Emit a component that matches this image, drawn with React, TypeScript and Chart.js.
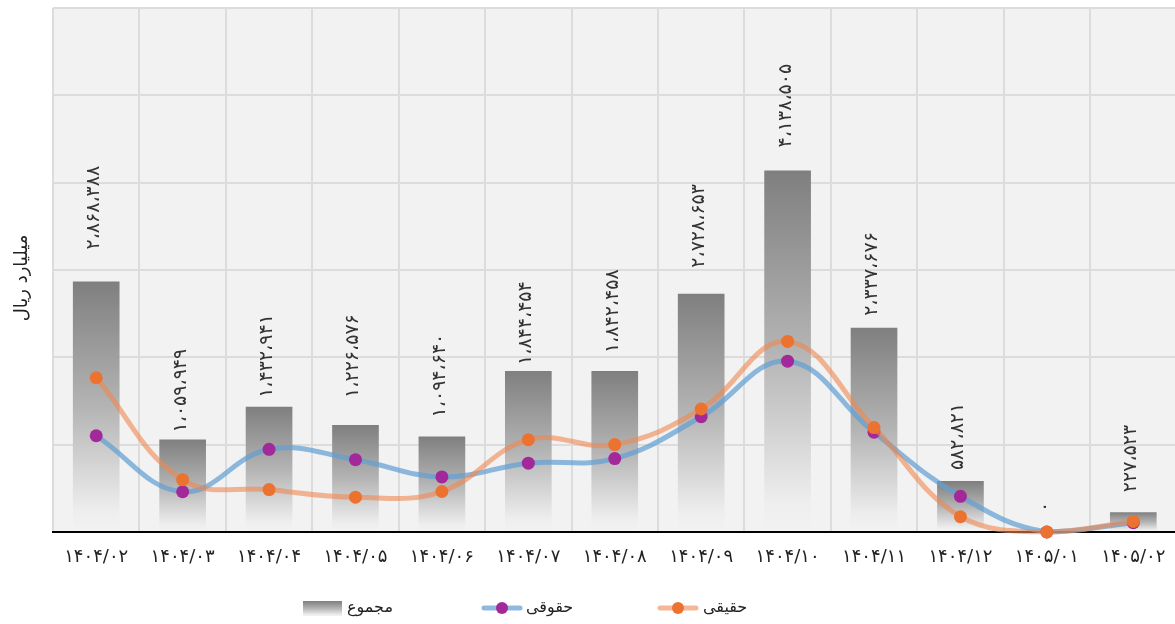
import { useEffect, useRef } from "react";
import { Chart, registerables } from "chart.js";

Chart.register(...registerables);

// Months (Persian calendar)
const months = [
  "۱۴۰۴/۰۲", "۱۴۰۴/۰۳", "۱۴۰۴/۰۴", "۱۴۰۴/۰۵", "۱۴۰۴/۰۶", "۱۴۰۴/۰۷", "۱۴۰۴/۰۸",
  "۱۴۰۴/۰۹", "۱۴۰۴/۱۰", "۱۴۰۴/۱۱", "۱۴۰۴/۱۲", "۱۴۰۵/۰۱", "۱۴۰۵/۰۲",
];

// مجموع (billion rials)
const totals = [
  2868388, 1059949, 1432941, 1226576, 1094640, 1844454, 1842458,
  2728653, 4138505, 2337676, 582821, 0, 227523,
];

// حقوقی
const legalValues = [
  1102000, 461000, 947000, 828000, 631000, 788000, 841000,
  1320000, 1956000, 1142000, 408000, 0, 106000,
];

// حقیقی
const naturalValues = [
  1766388, 598949, 485941, 398576, 463640, 1056454, 1001458,
  1408653, 2182505, 1195676, 174821, 0, 121523,
];

// y axis range and grid step
const yMax = 6000000;
const yStep = 1000000;

// distance (px) between each bar top and the start of its value label
const labelGap = [32, 7, 9, 27, 19, 6, 18, 26, 23, 12, 11, 20, 20];

const FONT = "'DejaVu Sans', 'Noto Sans', sans-serif";
const FA_DIGITS = "۰۱۲۳۴۵۶۷۸۹";

function toFa(n: number): string {
  return n
    .toLocaleString("en-US")
    .replace(/,/g, "،")
    .replace(/\d/g, (d) => FA_DIGITS[+d]);
}

const BLUE_LINE = "rgba(100, 160, 210, 0.72)";
const ORANGE_LINE = "rgba(238, 135, 80, 0.6)";
const PURPLE_POINT = "#a3289a";
const ORANGE_POINT = "#ec7230";
const TEXT = "#222222";

function barGradient(c: CanvasRenderingContext2D, top: number, bottom: number) {
  const g = c.createLinearGradient(0, top, 0, bottom);
  g.addColorStop(0, "#7f7f7f");
  g.addColorStop(0.5, "#b4b4b4");
  g.addColorStop(0.92, "#eeeeee");
  g.addColorStop(1, "#f2f2f2");
  return g;
}

const plotBackground = {
  id: "plotBackground",
  beforeDraw(chart: any) {
    const { ctx, chartArea } = chart;
    if (!chartArea) return;
    ctx.save();
    ctx.fillStyle = "#f2f2f2";
    ctx.fillRect(chartArea.left, chartArea.top, chartArea.right - chartArea.left, chartArea.bottom - chartArea.top);
    ctx.restore();
  },
};

const barLabels = {
  id: "barLabels",
  afterDatasetsDraw(chart: any) {
    const meta = chart.getDatasetMeta(0);
    const c: CanvasRenderingContext2D = chart.ctx;
    meta.data.forEach((el: any, i: number) => {
      const { x, y } = el.getProps(["x", "y"], true);
      c.save();
      c.translate(x - 2, y - labelGap[i]);
      c.rotate(-Math.PI / 2);
      c.textAlign = "left";
      c.textBaseline = "middle";
      c.fillStyle = "#333333";
      c.font = `19px ${FONT}`;
      c.fillText(toFa(totals[i]), 0, 0);
      c.restore();
    });
  },
};

const sideAndLegend = {
  id: "sideAndLegend",
  afterDraw(chart: any) {
    const c: CanvasRenderingContext2D = chart.ctx;
    c.save();
    c.fillStyle = TEXT;

    // axis title
    c.save();
    c.font = `18px ${FONT}`;
    c.translate(22, 278);
    c.rotate(-Math.PI / 2);
    c.textAlign = "center";
    c.textBaseline = "middle";
    c.fillText("میلیارد ریال", 0, 0);
    c.restore();

    const ly = 608;
    c.font = `16px ${FONT}`;
    c.textBaseline = "middle";
    c.textAlign = "left";

    // مجموع
    c.fillStyle = barGradient(c, 601, 616);
    c.fillRect(303, 601, 39, 15);
    c.fillStyle = TEXT;
    c.fillText("مجموع", 347, ly);

    // حقوقی
    c.strokeStyle = BLUE_LINE;
    c.lineWidth = 5;
    c.lineCap = "round";
    c.beginPath();
    c.moveTo(484, ly);
    c.lineTo(520, ly);
    c.stroke();
    c.fillStyle = PURPLE_POINT;
    c.beginPath();
    c.arc(502, ly, 6, 0, Math.PI * 2);
    c.fill();
    c.fillStyle = TEXT;
    c.fillText("حقوقی", 526, ly);

    // حقیقی
    c.strokeStyle = ORANGE_LINE;
    c.beginPath();
    c.moveTo(660, ly);
    c.lineTo(696, ly);
    c.stroke();
    c.fillStyle = ORANGE_POINT;
    c.beginPath();
    c.arc(678, ly, 6, 0, Math.PI * 2);
    c.fill();
    c.fillStyle = TEXT;
    c.fillText("حقیقی", 703, ly);

    c.restore();
  },
};

export default function App() {
  const canvasRef = useRef<HTMLCanvasElement | null>(null);

  useEffect(() => {
    document.body.style.margin = "0";
    document.body.style.overflow = "hidden";
    const canvas = canvasRef.current;
    if (!canvas) return;

    const chart = new Chart(canvas, {
      type: "bar",
      data: {
        labels: months,
        datasets: [
          {
            type: "bar",
            label: "مجموع",
            data: totals,
            order: 3,
            barPercentage: 0.9,
            categoryPercentage: 0.6,
            backgroundColor: (ctx: any) => {
              const chart = ctx.chart;
              if (!chart.chartArea || ctx.type !== "data") return "#808080";
              const ys = chart.scales.y;
              const top = ys.getPixelForValue(totals[ctx.dataIndex]);
              const bottom = ys.getPixelForValue(0);
              if (bottom - top < 1) return "#808080";
              return barGradient(chart.ctx, top, bottom);
            },
          },
          {
            type: "line",
            label: "حقوقی",
            data: legalValues,
            order: 2,
            borderColor: BLUE_LINE,
            borderWidth: 5,
            tension: 0.4,
            pointRadius: 6.5,
            pointBorderWidth: 0,
            pointBackgroundColor: PURPLE_POINT,
            clip: false as any,
          },
          {
            type: "line",
            label: "حقیقی",
            data: naturalValues,
            order: 1,
            borderColor: ORANGE_LINE,
            borderWidth: 5,
            tension: 0.4,
            pointRadius: 6.5,
            pointBorderWidth: 0,
            pointBackgroundColor: ORANGE_POINT,
            clip: false as any,
          },
        ],
      },
      options: {
        animation: false,
        responsive: false,
        maintainAspectRatio: false,
        layout: { padding: { top: 8, right: 3, left: 0, bottom: 0 } },
        plugins: {
          legend: { display: false },
          tooltip: { enabled: false },
        },
        scales: {
          x: {
            grid: { color: "#dcdcdc", lineWidth: 2, drawTicks: false, offset: true },
            border: { color: "#000000", width: 2 },
            ticks: {
              color: TEXT,
              font: { family: FONT, size: 18 },
              padding: 15,
              maxRotation: 0,
              autoSkip: false,
            },
            afterFit: (s: any) => {
              s.height = 92;
            },
          },
          y: {
            min: 0,
            max: yMax,
            ticks: { display: false, stepSize: yStep },
            grid: { color: "#dcdcdc", lineWidth: 2, drawTicks: false },
            border: { display: false },
            afterFit: (s: any) => {
              s.width = 53;
            },
          },
        },
      },
      plugins: [plotBackground, barLabels, sideAndLegend],
    });

    return () => chart.destroy();
  }, []);

  return (
    <div style={{ width: 1175, height: 624, overflow: "hidden", background: "#ffffff" }}>
      <canvas ref={canvasRef} width={1183} height={624} style={{ display: "block" }} />
    </div>
  );
}
